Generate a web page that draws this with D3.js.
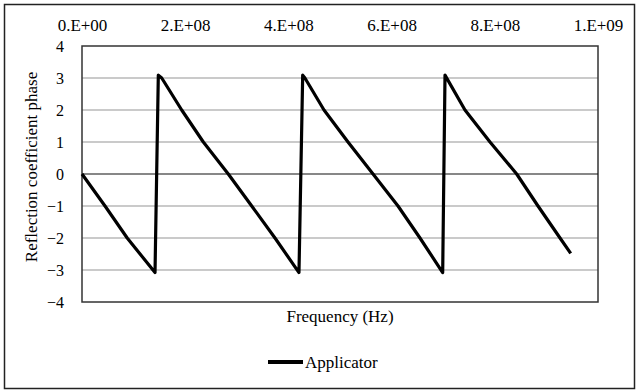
<!DOCTYPE html>
<meta charset="utf-8">
<style>
body { margin: 0; background: #fff; }
svg text { fill: #000; }
</style>
<svg width="640" height="391"></svg>
<script src="https://d3js.org/d3.v7.min.js"></script>
<script>

// frequency in Hz, phase in radians
var freq = [0, 44.6e6, 87.6e6, 141.5e6,
            147.9e6, 154.5e6, 193.2e6, 235.1e6, 283.5e6, 328.9e6, 374.0e6, 420.5e6,
            427.7e6, 432.0e6, 469.0e6, 515.5e6, 564.0e6, 612.4e6, 655.0e6, 699.0e6,
            703.5e6, 742.2e6, 790.7e6, 842.4e6, 883.7e6, 926.4e6, 947.1e6];
var phase = [0, -1, -2, -3.08,
             3.09, 3.0, 2, 1, 0, -1, -2, -3.08,
             3.09, 3.0, 2, 1, 0, -1, -2, -3.08,
             3.09, 2, 1, 0, -1, -2, -2.48];

var xTicks = [0, 2e8, 4e8, 6e8, 8e8, 1e9];
var xTickLabels = ["0.E+00", "2.E+08", "4.E+08", "6.E+08", "8.E+08", "1.E+09"];
var yTicks = [-4, -3, -2, -1, 0, 1, 2, 3, 4];
var seriesName = "Applicator";

var svg = d3.select("svg"),
    width = +svg.attr("width"),
    height = +svg.attr("height");

var serif = "'Times New Roman', Times, 'Liberation Serif', 'DejaVu Serif', serif";
var fontSize = 17;
var plot = {left: 82, right: 598, top: 46, bottom: 302};

var x = d3.scaleLinear().domain([0, 1e9]).range([plot.left, plot.right]);
var y = d3.scaleLinear().domain([-4, 4]).range([plot.bottom, plot.top]);

// outer chart frame
svg.append("rect")
    .attr("x", 4.5).attr("y", 4.5)
    .attr("width", 630).attr("height", 384)
    .attr("fill", "#fff")
    .attr("stroke", "#222")
    .attr("stroke-width", 1.5);

// gridlines
svg.append("g")
  .selectAll("line")
  .data(yTicks.filter(function(d) { return d !== 0 && Math.abs(d) !== 4; }))
  .enter().append("line")
    .attr("x1", plot.left).attr("x2", plot.right)
    .attr("y1", function(d) { return y(d); })
    .attr("y2", function(d) { return y(d); })
    .attr("stroke", "#969696")
    .attr("stroke-width", 1.2);

// plot frame
svg.append("rect")
    .attr("x", plot.left).attr("y", plot.top)
    .attr("width", plot.right - plot.left).attr("height", plot.bottom - plot.top)
    .attr("fill", "none")
    .attr("stroke", "#333")
    .attr("stroke-width", 1.5);

// zero line
svg.append("line")
    .attr("x1", plot.left).attr("x2", plot.right)
    .attr("y1", y(0)).attr("y2", y(0))
    .attr("stroke", "#111")
    .attr("stroke-width", 1.2);

// top frequency axis
var xAxis = d3.axisTop(x)
    .tickValues(xTicks)
    .tickSize(0)
    .tickPadding(0)
    .tickFormat(function(d, i) { return xTickLabels[i]; });

svg.append("g")
    .attr("transform", "translate(0,31)")
    .call(xAxis)
    .attr("font-family", serif)
    .attr("font-size", fontSize)
    .call(function(g) { g.select(".domain").remove(); })
    .selectAll("text")
      .attr("dy", 0);

// left phase axis
var yAxis = d3.axisLeft(y)
    .tickValues(yTicks)
    .tickSize(0)
    .tickPadding(18)
    .tickFormat(d3.format("d"));

svg.append("g")
    .attr("transform", "translate(" + plot.left + ",0)")
    .call(yAxis)
    .attr("font-family", serif)
    .attr("font-size", fontSize - 1)
    .call(function(g) { g.select(".domain").remove(); })
    .selectAll("text")
      .attr("dy", "0.34em");

// data line
var points = freq.map(function(f, i) { return [f, phase[i]]; });

var line = d3.line()
    .x(function(d) { return x(d[0]); })
    .y(function(d) { return y(d[1]); });

svg.append("path")
    .datum(points)
    .attr("fill", "none")
    .attr("stroke", "#000")
    .attr("stroke-width", 3.2)
    .attr("stroke-linejoin", "round")
    .attr("d", line);

// axis titles
svg.append("text")
    .attr("font-family", serif)
    .attr("font-size", fontSize)
    .attr("x", (plot.left + plot.right) / 2)
    .attr("y", 322)
    .attr("text-anchor", "middle")
    .text("Frequency (Hz)");

svg.append("text")
    .attr("font-family", serif)
    .attr("font-size", fontSize)
    .attr("transform", "translate(37," + 167 + ") rotate(-90)")
    .attr("text-anchor", "middle")
    .text("Reflection coefficient phase");

// legend
var legend = svg.append("g").attr("transform", "translate(268,362)");
legend.append("line")
    .attr("x1", 0).attr("x2", 35)
    .attr("stroke", "#000")
    .attr("stroke-width", 4);
legend.append("text")
    .attr("font-family", serif)
    .attr("font-size", fontSize)
    .attr("x", 37)
    .attr("y", 5.5)
    .text(seriesName);

</script>
